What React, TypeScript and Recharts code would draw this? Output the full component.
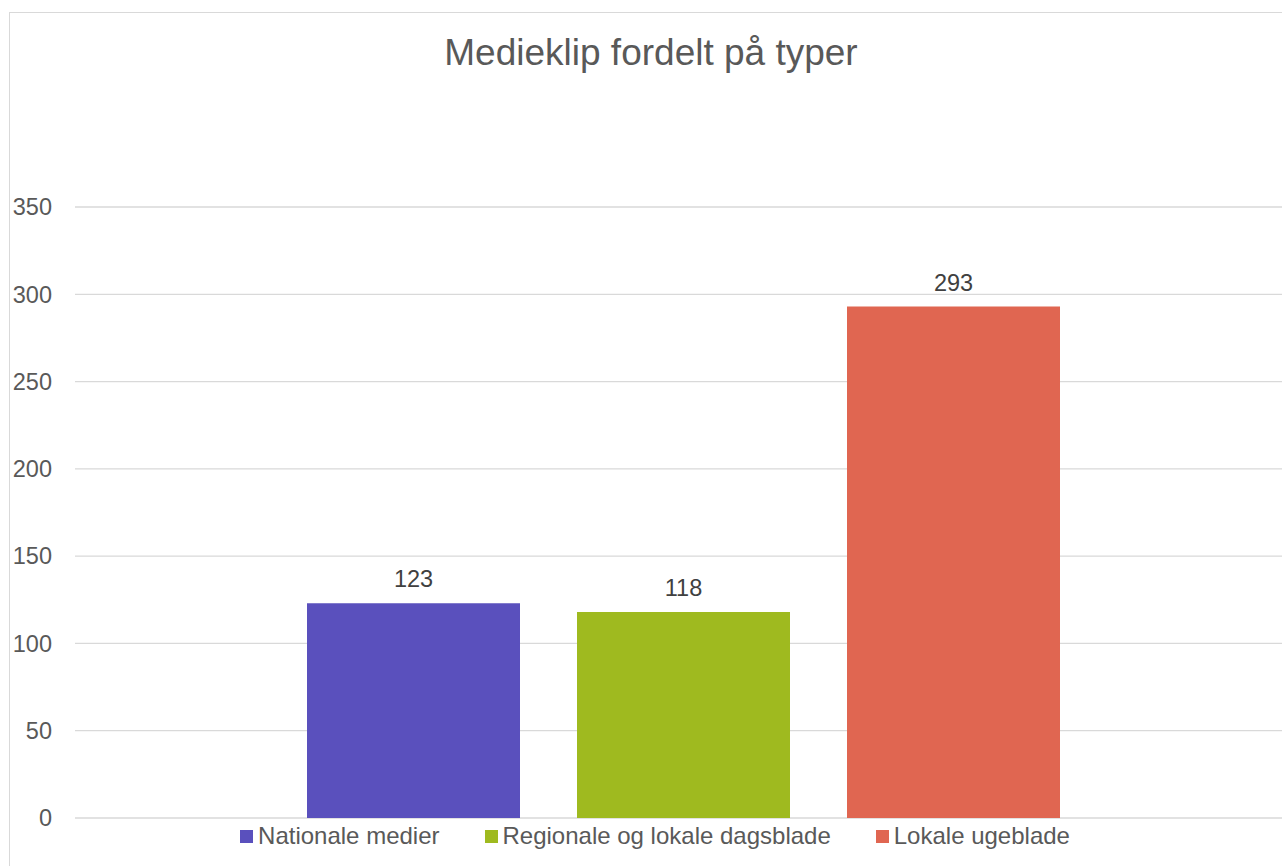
import { BarChart, Bar, XAxis, YAxis, CartesianGrid, Legend, LabelList } from 'recharts'

const seriesNames = ['Nationale medier', 'Regionale og lokale dagsblade', 'Lokale ugeblade']
const seriesValues = [123, 118, 293]
const seriesColors = ['#5a50bd', '#9fba1f', '#e06651']
const yTicks = [0, 50, 100, 150, 200, 250, 300, 350]

const data = [
  seriesNames.reduce<Record<string, string | number>>(
    (row, name, i) => {
      row[name] = seriesValues[i]
      return row
    },
    { category: 'Medieklip' }
  ),
]

const FONT = '"Liberation Sans", Arial, sans-serif'

function LegendContent({ payload }: { payload?: any[] }) {
  // keep the series order, not recharts' alphabetical sort
  const items = [...(payload || [])].sort(
    (a, b) => seriesNames.indexOf(a.value) - seriesNames.indexOf(b.value)
  )
  return (
    <div style={{ display: 'flex', justifyContent: 'center', alignItems: 'center', fontFamily: FONT, fontSize: 24, color: '#595959' }}>
      {items.map((p, i) => (
        <div key={i} style={{ display: 'flex', alignItems: 'center', marginRight: i < items.length - 1 ? 45 : 0 }}>
          <span style={{ width: 13, height: 13, background: p.color, display: 'inline-block', marginRight: 5 }} />
          <span>{p.value}</span>
        </div>
      ))}
    </div>
  )
}

export default function App() {
  return (
    <div style={{ position: 'fixed', left: 0, top: 0, width: 1320, height: 900, background: '#fff', fontFamily: FONT }}>
      <div style={{ position: 'absolute', left: 9, top: 12, width: 1300, height: 880, border: '1px solid #d9d9d9' }} />
      <div
        style={{
          position: 'absolute',
          left: 0,
          width: 1302,
          top: 32,
          textAlign: 'center',
          fontSize: 37,
          color: '#595959',
        }}
      >
        Medieklip fordelt på typer
      </div>
      <div style={{ position: 'absolute', left: 0, top: 0 }}>
        <BarChart
          width={1300}
          height={866}
          data={data}
          barGap={57}
          margin={{ top: 207, right: 8, bottom: 48, left: 0 }}
        >
          <CartesianGrid vertical={false} stroke="#d9d9d9" strokeWidth={1.3} />
          <XAxis dataKey="category" hide />
          <YAxis
            width={75}
            domain={[0, 350]}
            ticks={yTicks}
            interval={0}
            axisLine={false}
            tickLine={false}
            tickSize={0}
            tickMargin={23}
            tick={{ fill: '#595959', fontSize: 23.5, fontFamily: FONT }}
          />
          {seriesNames.map((name, i) => (
            <Bar key={name} dataKey={name} fill={seriesColors[i]} barSize={213} isAnimationActive={false}>
              <LabelList dataKey={name} position="top" offset={16} fill="#404040" fontSize={23.5} fontFamily={FONT} />
            </Bar>
          ))}
          <Legend
            layout="horizontal"
            verticalAlign="middle"
            align="center"
            wrapperStyle={{ left: 0, top: 822, width: 1310 }}
            content={<LegendContent />}
          />
        </BarChart>
      </div>
    </div>
  )
}
